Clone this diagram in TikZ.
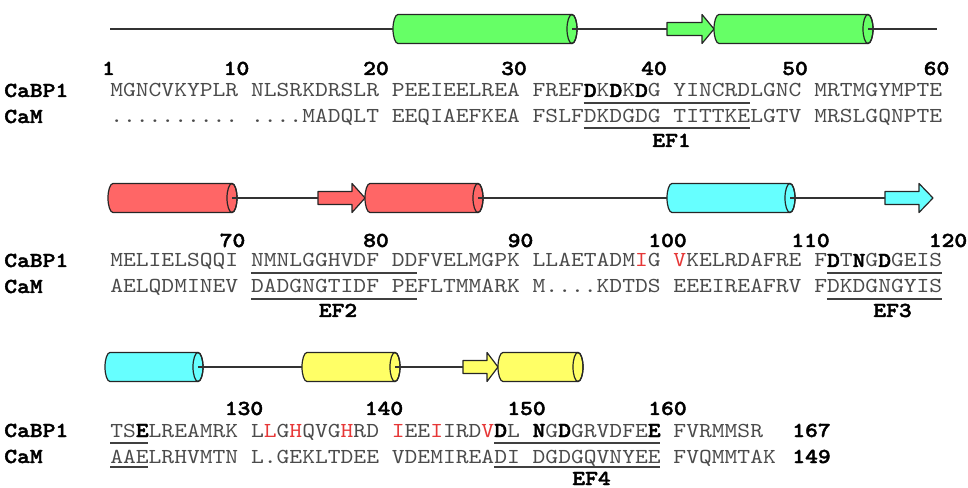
\documentclass[tikz,border=0pt]{standalone}
\usepackage{fontspec}
\newfontfamily\seqfont{lmmono10-regular.otf}[BoldFont=lmmonolt10-bold.otf, BoldFeatures={FakeBold=2}, FakeStretch=1.142857]
\usetikzlibrary{calc}

\definecolor{helixgreen}{RGB}{102,255,102}
\definecolor{helixred}{RGB}{255,102,102}
\definecolor{helixcyan}{RGB}{102,255,255}
\definecolor{helixyellow}{RGB}{255,255,102}
\definecolor{seqgray}{RGB}{75,75,75}
\definecolor{hotred}{RGB}{230,55,55}

\newcommand{\seqsize}{\fontsize{16}{18}\selectfont}
\newcommand{\bres}[1]{\textcolor{black}{\textbf{#1}}}
\newcommand{\hres}[1]{\textcolor{hotred}{#1}}

% cylinder: name, left end, right end, centre line, colour
\newcommand{\helix}[5]{%
  \filldraw[helixline, fill=#5] (#2+5,#4-14.5) -- (#3-5,#4-14.5)
    arc[start angle=-90, end angle=90, x radius=5, y radius=14.5] -- (#2+5,#4+14.5)
    arc[start angle=90, end angle=270, x radius=5, y radius=14.5] -- cycle;
  \draw[helixline] (#3-5,#4) ellipse[x radius=5, y radius=14.5];
  \coordinate (#1-l) at (#2,#4);
  \coordinate (#1-r) at (#3-5,#4);
}
% strand arrow: name, start, head base, tip, centre line, colour
\newcommand{\strand}[6]{%
  \filldraw[helixline, fill=#6] (#2,#5-6.5) -- (#3,#5-6.5) -- (#3,#5-14.5) -- (#4,#5)
    -- (#3,#5+14.5) -- (#3,#5+6.5) -- (#2,#5+6.5) -- cycle;
  \coordinate (#1-l) at (#2,#5);
  \coordinate (#1-r) at (#4,#5);
}

\tikzset{
  seq/.style={anchor=base west, inner sep=0pt, font=\seqsize\seqfont\frenchspacing, text=seqgray},
  protlabel/.style={anchor=base west, inner sep=0pt, font=\seqsize\seqfont\bfseries},
  resnum/.style={anchor=base, inner sep=0pt, font=\seqsize\seqfont\bfseries},
  eflabel/.style={anchor=base, inner sep=0pt, font=\seqsize\seqfont\bfseries},
  efline/.style={line width=1.5pt, draw=black!75},
  backbone/.style={line width=1pt, draw=black!80},
  helixline/.style={line width=0.9pt, draw=black!85, line join=round},
}

\begin{document}
\begin{tikzpicture}[x=0.75pt, y=-0.75pt]
	\useasboundingbox (0,0) rectangle (968,488);

	% residues 1-60
	\begin{scope}
		\helix{a1}{393}{577}{29}{helixgreen}
		\strand{b1}{667}{702}{714}{29}{helixgreen}
		\helix{a2}{714}{873}{29}{helixgreen}
		\coordinate (nterm) at (110,29);
		\coordinate (end1) at (937,29);
		\draw[backbone] (nterm) -- (a1-l);
		\draw[backbone] (a1-r) -- (b1-l);
		\draw[backbone] (a2-r) -- (end1);

		\node[resnum] (n1) at (108.5,75) {1};
		\node[resnum] (n10) at (236.5,75) {10};
		\node[resnum] (n20) at (376,75) {20};
		\node[resnum] (n30) at (514,75) {30};
		\node[resnum] (n40) at (654,75) {40};
		\node[resnum] (n50) at (795,75) {50};
		\node[resnum] (n60) at (936.5,75) {60};

		\node[protlabel] (lab1a) at (4,97) {CaBP1};
		\node[protlabel] (lab1b) at (4,123) {CaM};
		\node[seq] (cabp1a) at (110,97) {MGNCVKYPLR NLSRKDRSLR PEEIEELREA FREF\bres{D}K\bres{D}K\bres{D}G YINCRDLGNC MRTMGYMPTE};
		\node[seq] (cam1a) at (110,123) {.......... ....MADQLT EEQIAEFKEA FSLFDKDGDG TITTKELGTV MRSLGQNPTE};

		\draw[efline] (583.6,103) -- (750,103);
		\draw[efline] (583.6,128) -- (750,128);
		\node[eflabel] (ef1) at (671.5,147) {EF1};
	\end{scope}

	% residues 61-120
	\begin{scope}[shift={(0,170)}]
		\helix{a3}{108}{237}{28}{helixred}
		\strand{b2}{318}{352}{365}{28}{helixred}
		\helix{a4}{365}{483}{28}{helixred}
		\helix{a5}{667}{795}{28}{helixcyan}
		\strand{b3}{885}{919}{933}{28}{helixcyan}
		\draw[backbone] (a3-r) -- (b2-l);
		\draw[backbone] (a4-r) -- (a5-l);
		\draw[backbone] (a5-r) -- (b3-l);

		\node[resnum] (n70) at (232.5,77) {70};
		\node[resnum] (n80) at (376,77) {80};
		\node[resnum] (n90) at (520.5,77) {90};
		\node[resnum] (n100) at (667.5,77) {100};
		\node[resnum] (n110) at (810.5,77) {110};
		\node[resnum] (n120) at (948,77) {120};

		\node[protlabel] (lab2a) at (4,97) {CaBP1};
		\node[protlabel] (lab2b) at (4,123) {CaM};
		\node[seq] (cabp1b) at (110,97) {MELIELSQQI NMNLGGHVDF DDFVELMGPK LLAETADM\hres{I}G \hres{V}KELRDAFRE F\bres{D}T\bres{N}G\bres{D}GEIS};
		\node[seq] (camb) at (110,123) {AELQDMINEV DADGNGTIDF PEFLTMMARK M....KDTDS EEEIREAFRV FDKDGNGYIS};

		\draw[efline] (250.8,103) -- (417.2,103);
		\draw[efline] (250.8,129) -- (417.2,129);
		\node[eflabel] (ef2) at (338,147) {EF2};
		\draw[efline] (826.8,103) -- (942,103);
		\draw[efline] (826.8,129) -- (942,129);
		\node[eflabel] (ef3) at (892.5,147) {EF3};
	\end{scope}

	% residues 121-167
	\begin{scope}[shift={(0,340)}]
		\helix{a6}{105}{203}{27}{helixcyan}
		\helix{a7}{302}{400}{27}{helixyellow}
		\strand{b4}{463}{487}{498}{27}{helixyellow}
		\helix{a8}{498}{583}{27}{helixyellow}
		\draw[backbone] (a6-r) -- (a7-l);
		\draw[backbone] (a7-r) -- (b4-l);

		\node[resnum] (n130) at (244,75) {130};
		\node[resnum] (n140) at (384,75) {140};
		\node[resnum] (n150) at (526.5,75) {150};
		\node[resnum] (n160) at (667.5,75) {160};

		\node[protlabel] (lab3a) at (4,97) {CaBP1};
		\node[protlabel] (lab3b) at (4,123) {CaM};
		\node[seq] (cabp1c) at (110,97) {TS\bres{E}LREAMRK L\hres{L}G\hres{H}QVG\hres{H}RD \hres{I}EE\hres{I}IRD\hres{V}\bres{D}L \bres{N}G\bres{D}GRVDFE\bres{E} FVRMMSR};
		\node[seq] (camc) at (110,123) {AAELRHVMTN L.GEKLTDEE VDEMIREADI DGDGQVNYEE FVQMMTAK};
		\node[resnum] (len1) at (811.5,97) {167};
		\node[resnum] (len2) at (811.5,123) {149};

		\draw[efline] (110,103) -- (148.4,103);
		\draw[efline] (110,127) -- (148.4,127);
		\draw[efline] (494,103) -- (660.4,103);
		\draw[efline] (494,127) -- (660.4,127);
		\node[eflabel] (ef4) at (591.5,145) {EF4};
	\end{scope}

\end{tikzpicture}
\end{document}
